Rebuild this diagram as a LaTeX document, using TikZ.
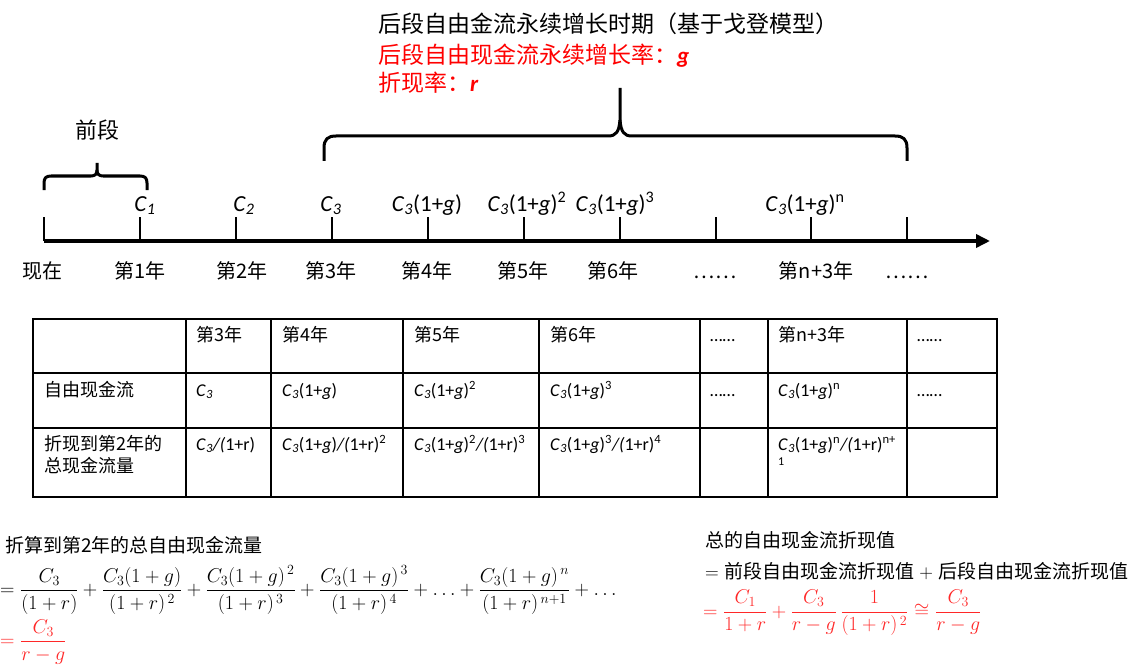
\RequirePackage{fix-cm}
\documentclass[tikz,border=0pt]{standalone}
\usepackage[no-math]{fontspec}
\usepackage{amsmath}
\usetikzlibrary{arrows.meta}
\newfontfamily\cjk{Noto Sans CJK SC}
\newfontfamily\carl{Carlito}
\definecolor{myred}{RGB}{255,0,0}
\definecolor{eqred}{RGB}{255,40,40}
\newcommand{\fs}[1]{\fontsize{#1}{#1}\selectfont}
\newcommand{\Cn}[1]{\textit{C}\textsubscript{\textit{#1}}}
\tikzset{
  tl/.style={font=\carl\fs{23}, anchor=base},
  yl/.style={font=\cjk\fs{20}, anchor=base},
  tc/.style={font=\carl\fs{18}, anchor=base west, inner sep=0pt},
  tz/.style={font=\cjk\fs{18}, anchor=base west, inner sep=0pt},
  top/.style={font=\cjk\fs{23}, anchor=base west, inner sep=0pt},
  brace/.style={line width=3pt, line join=round},
  tick/.style={line width=1.2pt},
  grid/.style={line width=1.3pt},
  txt/.style={font=\cjk\fs{19}, anchor=base west, inner sep=0pt},
  eq/.style={anchor=west, inner sep=0pt, font=\fs{20}},
}
\begin{document}
\begin{tikzpicture}[x=1pt,y=-1pt]
\useasboundingbox (0,0) rectangle (1131,671);
% top texts
\node[top] (t1) at (378,33) {后段自由金流永续增长时期（基于戈登模型）};
\node[top, text=myred] (t2) at (378,64) {后段自由现金流永续增长率：{\carl\bfseries\itshape g}};
\node[top, text=myred] (t3) at (378,92) {折现率：{\carl\bfseries\itshape r}};
% big brace
\draw[brace] (324,161) -- (324,148) .. controls (324,139) and (328,136) .. (336,136)
  -- (608,136) .. controls (616,136) and (619,132) .. (620,120) -- (620,88);
\draw[brace] (620,120) .. controls (621,132) and (624,136) .. (632,136)
  -- (895,136) .. controls (903,136) and (907,139) .. (907,148) -- (907,161);
% small brace
\node[font=\cjk\fs{22}, anchor=base] (qd) at (97,139) {前段};
\draw[brace] (44,190) -- (44,183) .. controls (44,178) and (46,176) .. (51,176)
  -- (91,176) .. controls (95,176) and (97,174) .. (97,170) -- (97,163);
\draw[brace] (97,170) .. controls (97,174) and (99,176) .. (103,176)
  -- (140,176) .. controls (145,176) and (147,178) .. (147,183) -- (147,190);
% axis
\coordinate (a0) at (44,241);
\coordinate (a1) at (990,241);
\draw[line width=4pt, -{Triangle[length=14pt,width=13pt]}] (a0) -- (a1);
\foreach \x/\n in {44/0,140/1,236/2,332/3,428/4,524/5,620/6,716/7,811/8,907/9}{
  \draw[tick] (\x,217) coordinate (tk\n) -- (\x,241);
}
% C labels
\node[tl] (c1) at (145,211) {\Cn{1}};
\node[tl] (c2) at (244,211) {\Cn{2}};
\node[tl] (c3) at (331,211) {\Cn{3}};
\node[tl] (c4) at (427,211) {\Cn{3}(1+\textit{g})};
\node[tl] (c5) at (527,211) {\Cn{3}(1+\textit{g})\textsuperscript{2}};
\node[tl] (c6) at (615,211) {\Cn{3}(1+\textit{g})\textsuperscript{3}};
\node[tl] (c7) at (805,211) {\Cn{3}(1+\textit{g})\textsuperscript{n}};
% year labels
\node[yl] (y0) at (42,278) {现在};
\node[yl] (y1) at (140,278) {第1年};
\node[yl] (y2) at (242,278) {第2年};
\node[yl] (y3) at (331,278) {第3年};
\node[yl] (y4) at (427,278) {第4年};
\node[yl] (y5) at (523,278) {第5年};
\node[yl] (y6) at (613,278) {第6年};
\node[yl] (y7) at (715,278) {……};
\node[yl] (y8) at (816,278) {第n+3年};
\node[yl] (y9) at (907,278) {……};
% table grid
\draw[grid] (33,319) rectangle (997,497);
\foreach \x in {186,271,403,539,700,768,907}{\draw[grid] (\x,319) -- (\x,497);}
\foreach \y in {373,428}{\draw[grid] (33,\y) -- (997,\y);}
% header row
\node[tz] (h3) at (196,341) {第3年};
\node[tz] (h4) at (282,341) {第4年};
\node[tz] (h5) at (414,341) {第5年};
\node[tz] (h6) at (550,341) {第6年};
\node[tc] (h7) at (710,341) {……};
\node[tz] (h8) at (778,341) {第n+3年};
\node[tc] (h9) at (917,341) {……};
% row 2
\node[tz] (r2a) at (44,396) {自由现金流};
\node[tc] (r2b) at (196,396) {\Cn{3}};
\node[tc] (r2c) at (282,396) {\Cn{3}(1+\textit{g})};
\node[tc] (r2d) at (414,396) {\Cn{3}(1+\textit{g})\textsuperscript{2}};
\node[tc] (r2e) at (550,396) {\Cn{3}(1+\textit{g})\textsuperscript{3}};
\node[tc] (r2f) at (710,396) {……};
\node[tc] (r2g) at (778,396) {\Cn{3}(1+\textit{g})\textsuperscript{n}};
\node[tc] (r2h) at (917,396) {……};
% row 3
\node[tz] (r3a) at (44,450) {折现到第2年的};
\node[tz] (r3a2) at (44,472) {总现金流量};
\node[tc] (r3b) at (196,450) {\Cn{3}\textit{/(}1+r)};
\node[tc] (r3c) at (282,450) {\Cn{3}(1+\textit{g})\textit{/(}1+r)\textsuperscript{2}};
\node[tc] (r3d) at (414,450) {\Cn{3}(1+\textit{g})\textsuperscript{2}\textit{/(}1+r)\textsuperscript{3}};
\node[tc] (r3e) at (550,450) {\Cn{3}(1+\textit{g})\textsuperscript{3}\textit{/(}1+r)\textsuperscript{4}};
\node[tc] (r3g) at (778,450) {\Cn{3}(1+\textit{g})\textsuperscript{n}\textit{/(}1+r)\textsuperscript{n+}};
\node[font=\carl\fs{12}, anchor=base west, inner sep=0pt] (r3g2) at (778,465) {1};
% bottom left
\node[txt] (bl1) at (5,552) {折算到第2年的总自由现金流量};
\node[eq] (bl2) at (0,590)
  {$\displaystyle =\frac{C_3}{(1+r)}+\frac{C_3(1+g)}{(1+r)^{\,2}}+\frac{C_3(1+g)^{\,2}}{(1+r)^{\,3}}+\frac{C_3(1+g)^{\,3}}{(1+r)^{\,4}}+\ldots+\frac{C_3(1+g)^{\,n}}{(1+r)^{\,n+1}}+\ldots$};
\node[eq, text=eqred] (bl3) at (0,642)
  {$\displaystyle =\frac{C_3}{r-g}$};
% bottom right
\node[txt] (br1) at (705,547) {总的自由现金流折现值};
\node[txt] (br2) at (705,578) {$=$\;前段自由现金流折现值\;$+$\;后段自由现金流折现值};
\node[eq, text=eqred] (br3) at (703,613)
  {$\displaystyle =\frac{C_1}{1+r}+\frac{C_3}{r-g}\,\frac{1}{(1+r)^{\,2}}\cong\frac{C_3}{r-g}$};
\end{tikzpicture}
\end{document}
